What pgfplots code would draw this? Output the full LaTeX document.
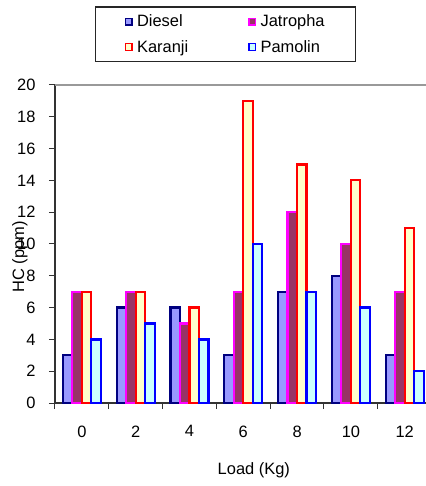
\documentclass[border=0pt]{standalone}
\usepackage{pgfplots}
\pgfplotsset{compat=1.18}
\usepackage{pgfplotstable}
\usepackage{fontspec}
\setmainfont{Liberation Sans}

\definecolor{dieselfill}{HTML}{9999FF}
\definecolor{dieseldraw}{HTML}{000080}
\definecolor{jatfill}{HTML}{993366}
\definecolor{jatdraw}{HTML}{FF00FF}
\definecolor{karfill}{HTML}{FFFFCC}
\definecolor{kardraw}{HTML}{FF0000}
\definecolor{pamfill}{HTML}{CCFFFF}
\definecolor{pamdraw}{HTML}{0000FF}

% HC emissions (ppm) against load; x = 0..6 stands for 0,2,...,12 kg
\pgfplotstableread{
x D J K P
0 3 7 7 4
1 6 7 7 5
2 6 5 6 4
3 3 7 19 10
4 7 12 15 7
5 8 10 14 6
6 3 7 11 2
}\hcdata

\newcommand{\lblfont}{\fontsize{16.5}{19}\selectfont}

\begin{document}
\begin{tikzpicture}
\begin{axis}[
  scale only axis, width=376.6bp, height=318bp,
  ybar=0pt, bar width=9.5bp,
  xmin=-0.5, xmax=6.5, ymin=0, ymax=20,
  xtick={-0.5,0.5,...,6.5},
  x tick label as interval,
  xticklabels={0,2,4,6,8,10,12},
  ytick={0,2,...,20},
  axis x line*=bottom, axis y line*=left,
  axis line style={black!80, line width=1.3bp, -},
  tick align=outside,
  major tick length=6bp,
  tick style={black!80, line width=1bp},
  ticklabel style={font=\lblfont},
  /pgf/number format/assume math mode=true,
  yticklabel style={xshift=-10bp},
  xticklabel style={yshift=-13bp},
  xlabel={Load (Kg)}, ylabel={HC (ppm)},
  xlabel style={at={(axis description cs:0.528,-0.211)}, anchor=center, font=\lblfont},
  ylabel style={at={(axis description cs:-0.093,0.459)}, anchor=center, font=\lblfont},
  clip=false,
  legend columns=2,
  legend cell align=left,
  legend style={at={(rel axis cs:0.106,1.248)}, anchor=north west,
    draw=black!85, line width=1.5bp, inner xsep=29bp, inner ysep=6bp,
    row sep=8bp,
    font=\lblfont,
    /tikz/every odd column/.append style={column sep=2.5bp},
    /tikz/every even column/.append style={column sep=58bp}},
  legend image code/.code={\draw[#1, line width=1.3bp] (0bp,-3.3bp) rectangle (6.6bp,3.3bp);},
]
\addplot[fill=dieselfill, draw=dieseldraw, line width=2.2bp] table[x=x, y=D] {\hcdata};
\addplot[fill=jatfill, draw=jatdraw, line width=2.2bp] table[x=x, y=J] {\hcdata};
\addplot[fill=karfill, draw=kardraw, line width=2.2bp] table[x=x, y=K] {\hcdata};
\addplot[fill=pamfill, draw=pamdraw, line width=2.2bp] table[x=x, y=P] {\hcdata};
\legend{Diesel, Jatropha, Karanji, Pamolin}
% grey top edge of the plot area
\draw[black!40, line width=1.5bp] (rel axis cs:0,1) -- (rel axis cs:1,1);
\end{axis}
\pgfresetboundingbox
\path[use as bounding box] (-55bp,-83bp) rectangle (371bp,403bp);
\end{tikzpicture}
\end{document}
